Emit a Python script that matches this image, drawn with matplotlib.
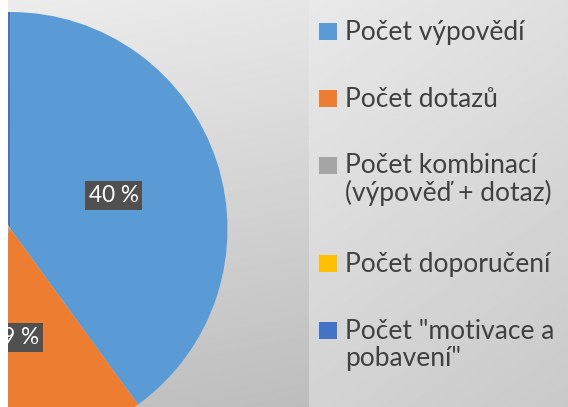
import numpy as np
import matplotlib.pyplot as plt
from matplotlib.patches import Rectangle

plt.rcParams['font.family'] = ['Lato', 'DejaVu Sans']

# data
labels = ['Počet výpovědí', 'Počet dotazů', 'Počet kombinací\n(výpověď + dotaz)',
          'Počet doporučení', 'Počet "motivace a\npobavení"']
values = [40, 19, 25, 8, 8]
colors = ['#5B9BD5', '#ED7D31', '#A5A5A5', '#FFC000', '#4472C4']

W, H = 568, 407
fig = plt.figure(figsize=(W / 100, H / 100), dpi=100)
fig.patch.set_facecolor('white')

# gradient backgrounds (plot area + legend box)
yy, xx = np.mgrid[0:1:200j, 0:1:200j]
bg = fig.add_axes([8 / W, 0, (309 - 8) / W, 1])
bg.imshow(236 - 41 * yy - 6 * xx, cmap='gray', vmin=0, vmax=255,
          extent=[0, 1, 0, 1], aspect='auto')
bg.axis('off')
lg = fig.add_axes([309 / W, 0, (W - 309) / W, 1])
lg.imshow(233 - 22 * yy - 10 * xx, cmap='gray', vmin=0, vmax=255,
          extent=[0, 1, 0, 1], aspect='auto')
lg.axis('off')

# pie, centre sits at the left edge of the visible chart
cx, cy, R = 10.5, H - 229, 217
ax = fig.add_axes([(cx - R) / W, (cy - R) / H, 2 * R / W, 2 * R / H])
wedges, _, pcts = ax.pie(values, colors=colors, startangle=90, counterclock=False,
                         autopct=lambda p: f'{p:.0f} %', pctdistance=0.5,
                         textprops=dict(color='white', fontsize=16.3))
for t in pcts:
    t.set_bbox(dict(boxstyle='square,pad=0.16', fc='#505050', ec='none'))
ax.set_xlim(-1, 1)
ax.set_ylim(-1, 1)
ax.axis('off')

# crop strip on the left
fig.add_artist(Rectangle((0, 0), 8 / W, 1, transform=fig.transFigure,
                         fc='white', ec='none', zorder=5))

# legend (square aligned to first line, like Excel)
base = 40
for lab, col in zip(labels, colors):
    n = lab.count('\n')
    fig.add_artist(Rectangle((319 / W, (H - base) / H), 18 / W, 17 / H,
                             transform=fig.transFigure, fc=col, ec='none', zorder=6))
    fig.text(345 / W, (H - base - 27 * n) / H, lab, fontsize=19, color='#404040',
             va='baseline', ha='left', linespacing=1.1, zorder=6)
    base += 67 + 31 * n

fig.savefig('out.png', dpi=100)
